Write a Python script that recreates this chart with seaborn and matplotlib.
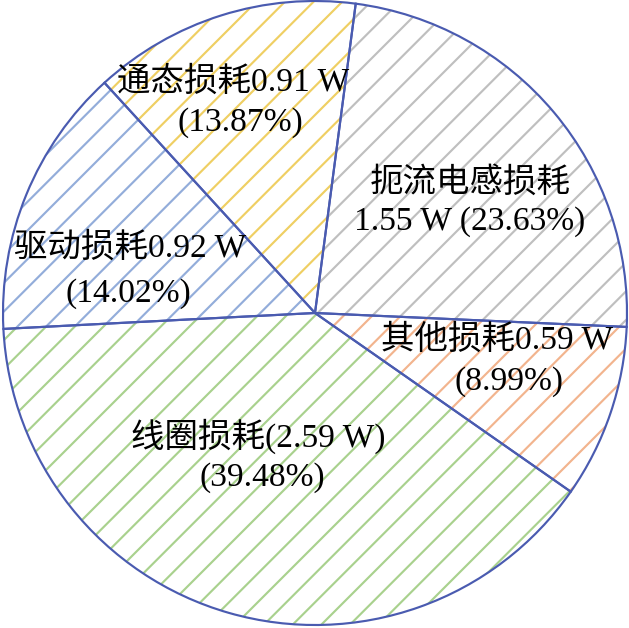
import matplotlib
matplotlib.use('Agg')
import matplotlib.pyplot as plt
import seaborn as sns

# loss breakdown (W), counter-clockwise from the top
names = ['通态损耗', '驱动损耗', '线圈损耗', '其他损耗', '扼流电感损耗']
watts = [0.91, 0.92, 2.59, 0.59, 1.55]
shares = [13.87, 14.02, 39.48, 8.99, 23.63]
first_lines = ['通态损耗0.91 W', '驱动损耗0.92 W', '线圈损耗(2.59 W)', '其他损耗0.59 W', '扼流电感损耗']
second_lines = ['(13.87%)', '(14.02%)', '(39.48%)', '(8.99%)', '1.55 W (23.63%)']
hatch_colors = ['#EFCF63', '#93ADDA', '#A9D18E', '#F2B48E', '#BFBFBF']
# label line centres (pie radius = 1)
first_pos = [(-0.263, 0.740), (-0.593, 0.208), (-0.183, -0.394), (0.583, -0.087), (0.497, 0.417)]
second_pos = [(-0.240, 0.609), (-0.599, 0.061), (-0.170, -0.526), (0.622, -0.221), (0.494, 0.292)]

sns.set_theme(style='white')
plt.rcParams['font.family'] = ['Liberation Serif', 'Noto Sans CJK SC']
plt.rcParams['hatch.linewidth'] = 1.8

dpi = 86
fig = plt.figure(figsize=(629 / dpi, 628 / dpi), dpi=dpi)
ax = fig.add_axes([0, 0, 1, 1])

start = 82.5
wedges, _ = ax.pie(watts, startangle=start, counterclock=True,
                   colors=['white'] * len(watts), wedgeprops=dict(linewidth=0))
for w, c in zip(wedges, hatch_colors):
    w.set_hatch('/')
    w.set_edgecolor(c)
    w.set_linewidth(0)

# blue outlines on top
ax.pie(watts, startangle=start, counterclock=True,
       wedgeprops=dict(fill=False, edgecolor='#4A5BB0', linewidth=1.8))

for txt, (x, y) in zip(first_lines + second_lines, first_pos + second_pos):
    ax.text(x, y, txt, ha='center', va='center', fontsize=28, color='black')

ax.set_xlim(-315 / 312, 314 / 312)
ax.set_ylim(-315 / 312, 313 / 312)
ax.set_aspect('equal', adjustable='datalim')
ax.axis('off')

fig.savefig('out.png', dpi=dpi)
